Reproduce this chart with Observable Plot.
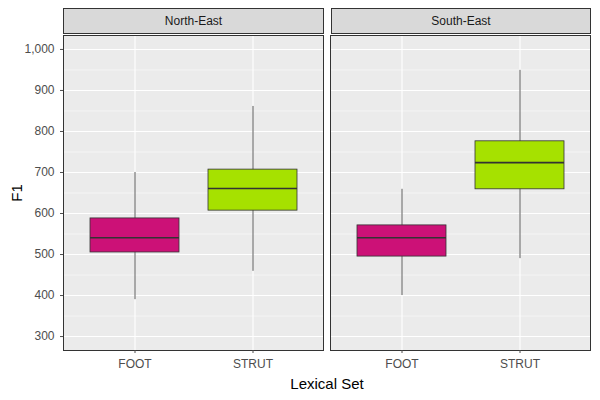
<!DOCTYPE html>
<html><head><meta charset="utf-8">
<script src="https://cdn.jsdelivr.net/npm/d3@7"></script>
<script src="https://cdn.jsdelivr.net/npm/@observablehq/plot@0.6"></script>
<style>
body{margin:0;background:#fff;font-family:"Liberation Sans",Arial,sans-serif}
#wrap{position:relative;width:600px;height:400px}
.strip{position:absolute;top:8px;height:26px;background:#d9d9d9;border:1px solid #333;box-sizing:border-box;font-size:12px;color:#1a1a1a;text-align:center;line-height:25px}
#xl{position:absolute;left:63px;width:528px;top:375px;text-align:center;font-size:15px;color:#000}
</style></head><body>
<div id="wrap"><div id="chart"></div></div>
<script>
const regions = ["North-East", "North-East", "South-East", "South-East"]
const lexSets = ["FOOT", "STRUT", "FOOT", "STRUT"]
const lower   = [390, 459, 400, 490]
const q1      = [505, 607, 495, 659]
const median  = [541, 661, 541, 724]
const q3      = [588, 707, 571, 776]
const upper   = [700, 861, 659, 949]

const data = regions.map((r, i) => ({region: r, set: lexSets[i], lo: lower[i], q1: q1[i], med: median[i], q3: q3[i], hi: upper[i]}))

let chart = Plot.plot({
  width: 600, height: 400,
  marginTop: 35, marginBottom: 50, marginLeft: 63, marginRight: 9,
  style: {fontFamily: "Liberation Sans, Arial, sans-serif", fontSize: "12px", color: "#4d4d4d"},
  fx: {domain: ["North-East", "South-East"], padding: 0.026, axis: null, label: null},
  x: {domain: ["FOOT", "STRUT"], paddingInner: 0.25, paddingOuter: 0.225, label: null, tickSize: 3},
  y: {domain: [266, 1034], ticks: d3.range(300, 1001, 100), label: "F1", labelAnchor: "center", labelArrow: "none", labelOffset: 52, tickSize: 3},
  color: {domain: ["FOOT", "STRUT"], range: ["#cc1177", "#a6e100"]},
  facet: {data: data, x: "region"},
  marks: [
    Plot.frame({fill: "#ebebeb"}),
    Plot.gridY(d3.range(350, 1001, 100), {stroke: "white", strokeOpacity: 1, strokeWidth: 0.5}),
    Plot.gridY(d3.range(300, 1001, 100), {stroke: "white", strokeOpacity: 1, strokeWidth: 1.1}),
    Plot.gridX({stroke: "white", strokeOpacity: 1, strokeWidth: 1.1}),
    Plot.ruleX(data, {x: "set", fx: "region", y1: "lo", y2: "hi", stroke: "#333", strokeWidth: 0.8}),
    Plot.barY(data, {x: "set", fx: "region", y1: "q1", y2: "q3", fill: "set", stroke: "#333", strokeWidth: 0.8}),
    Plot.tickY(data, {x: "set", fx: "region", y: "med", stroke: "#333", strokeWidth: 1.6}),
    Plot.frame({stroke: "#333", strokeWidth: 1}),
    Plot.axisX({tickSize: 3, fontSize: 12, color: "#4d4d4d"})
  ]
})
document.getElementById('chart').append(chart)
d3.select(chart).selectAll('[aria-label="y-axis label"] text').style('font-size', '15px').style('fill', '#000')
const w = d3.select('#wrap')
w.append('div').attr('class', 'strip').style('left', '63px').style('width', '261px').text('North-East')
w.append('div').attr('class', 'strip').style('left', '331px').style('width', '260px').text('South-East')
w.append('div').attr('id', 'xl').text('Lexical Set')
</script></body></html>
